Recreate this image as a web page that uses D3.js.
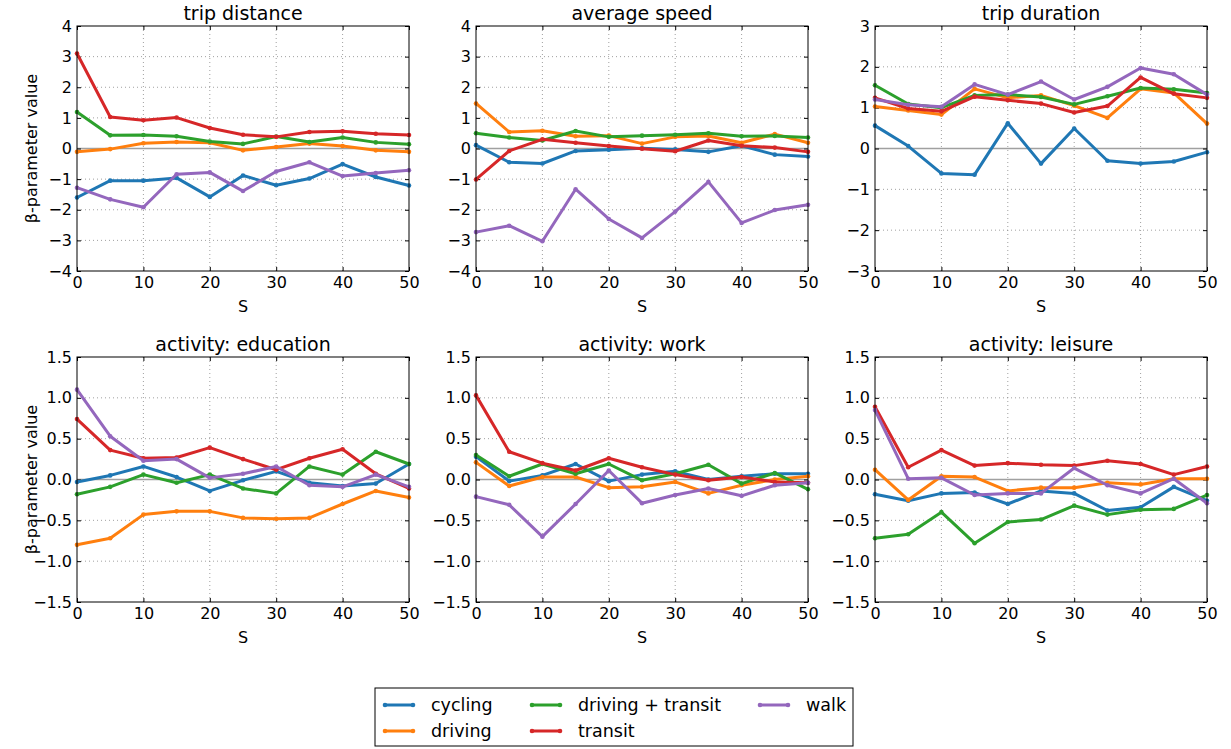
<!DOCTYPE html>
<html><head><meta charset="utf-8">
<script src="https://cdn.jsdelivr.net/npm/d3@7"></script>
<style>
body{margin:0;background:#fff;}
svg text{font-family:"DejaVu Sans",sans-serif;fill:#000;}
</style></head>
<body><svg id="c" width="1231" height="749"></svg>
<script>
const sValues = [0,5,10,15,20,25,30,35,40,45,50];
const seriesNames = ["cycling","driving","driving + transit","transit","walk"];
const seriesColors = ["#1f77b4","#ff7f0e","#2ca02c","#d62728","#9467bd"];
const panelTitles = ["trip distance","average speed","trip duration","activity: education","activity: work","activity: leisure"];
const xTicks = [0,10,20,30,40,50];
const yTicksTop = [-4,-3,-2,-1,0,1,2,3,4];
const yTicksDuration = [-3,-2,-1,0,1,2,3];
const yTicksBottom = [-1.5,-1.0,-0.5,0.0,0.5,1.0,1.5];

// rows: cycling, driving, driving + transit, transit, walk
const tripDistance = [
  [-1.60,-1.05,-1.05,-0.96,-1.58,-0.88,-1.20,-0.98,-0.51,-0.93,-1.21],
  [-0.11,-0.02,0.17,0.21,0.19,-0.06,0.05,0.16,0.08,-0.06,-0.11],
  [1.19,0.43,0.44,0.40,0.23,0.15,0.39,0.21,0.36,0.20,0.14],
  [3.10,1.03,0.92,1.01,0.67,0.45,0.38,0.54,0.56,0.48,0.44],
  [-1.28,-1.66,-1.92,-0.84,-0.78,-1.39,-0.75,-0.45,-0.90,-0.80,-0.71]
];
const averageSpeed = [
  [0.11,-0.45,-0.49,-0.08,-0.04,0.01,-0.03,-0.11,0.09,-0.20,-0.26],
  [1.47,0.54,0.58,0.40,0.42,0.16,0.38,0.41,0.19,0.47,0.19],
  [0.50,0.36,0.26,0.57,0.38,0.42,0.45,0.50,0.40,0.41,0.36],
  [-1.01,-0.08,0.30,0.19,0.08,-0.01,-0.09,0.26,0.09,0.03,-0.11],
  [-2.73,-2.52,-3.03,-1.33,-2.30,-2.92,-2.06,-1.09,-2.43,-2.01,-1.84]
];
const tripDuration = [
  [0.56,0.06,-0.61,-0.64,0.62,-0.37,0.49,-0.30,-0.37,-0.32,-0.09],
  [1.03,0.93,0.83,1.46,1.24,1.30,1.05,0.75,1.46,1.36,0.61],
  [1.55,1.09,1.00,1.30,1.32,1.26,1.08,1.28,1.48,1.45,1.36],
  [1.24,0.98,0.91,1.27,1.18,1.10,0.88,1.04,1.74,1.34,1.24],
  [1.20,1.07,1.02,1.57,1.32,1.64,1.20,1.51,1.97,1.82,1.32]
];
const activityEducation = [
  [-0.03,0.05,0.16,0.03,-0.14,-0.01,0.10,-0.04,-0.08,-0.05,0.19],
  [-0.80,-0.72,-0.43,-0.39,-0.39,-0.47,-0.48,-0.47,-0.30,-0.14,-0.22],
  [-0.18,-0.09,0.06,-0.04,0.06,-0.11,-0.17,0.16,0.06,0.34,0.19],
  [0.74,0.36,0.26,0.27,0.39,0.25,0.12,0.26,0.37,0.07,-0.11],
  [1.10,0.53,0.23,0.25,0.02,0.07,0.16,-0.07,-0.09,0.06,-0.09]
];
const activityWork = [
  [0.28,-0.02,0.05,0.19,-0.02,0.06,0.10,0.00,0.04,0.07,0.07],
  [0.21,-0.08,0.03,0.03,-0.10,-0.09,-0.03,-0.17,-0.07,0.00,0.04],
  [0.30,0.04,0.19,0.07,0.19,-0.01,0.07,0.18,-0.05,0.08,-0.12],
  [1.03,0.34,0.20,0.11,0.26,0.15,0.06,-0.01,0.03,-0.03,-0.04],
  [-0.21,-0.31,-0.70,-0.30,0.11,-0.29,-0.19,-0.11,-0.20,-0.07,-0.04]
];
const activityLeisure = [
  [-0.18,-0.26,-0.17,-0.16,-0.30,-0.14,-0.17,-0.38,-0.34,-0.09,-0.26],
  [0.12,-0.25,0.04,0.03,-0.14,-0.10,-0.10,-0.04,-0.06,0.01,0.01],
  [-0.72,-0.67,-0.40,-0.78,-0.52,-0.49,-0.32,-0.43,-0.37,-0.36,-0.19],
  [0.89,0.15,0.36,0.17,0.20,0.18,0.17,0.23,0.19,0.06,0.16],
  [0.85,0.01,0.02,-0.19,-0.17,-0.17,0.14,-0.07,-0.17,0.01,-0.29]
];

const panelData = [tripDistance, averageSpeed, tripDuration, activityEducation, activityWork, activityLeisure];
const panelYTicks = [yTicksTop, yTicksTop, yTicksDuration, yTicksBottom, yTicksBottom, yTicksBottom];

const svg = d3.select("#c");
const colLeft = [77, 476, 875];
const rowTop = [26, 357];
const pw = 332, ph = 245;

panelData.forEach((data, i) => {
  const col = i % 3, row = Math.floor(i / 3);
  const ticks = panelYTicks[i];
  const x = d3.scaleLinear().domain([0, 50]).range([0, pw]);
  const y = d3.scaleLinear().domain([ticks[0], ticks[ticks.length - 1]]).range([ph, 0]);
  const fmt = row === 0 ? d3.format("d") : d3.format(".1f");
  const g = svg.append("g").attr("transform", `translate(${colLeft[col]},${rowTop[row]})`);

  // grid
  g.append("g").selectAll("line").data(xTicks.slice(1, -1)).join("line")
    .attr("x1", d => x(d)).attr("x2", d => x(d)).attr("y1", 0).attr("y2", ph)
    .attr("stroke", "#888").attr("stroke-width", 0.8).attr("stroke-dasharray", "1,3");
  g.append("g").selectAll("line").data(ticks.slice(1, -1)).join("line")
    .attr("y1", d => y(d)).attr("y2", d => y(d)).attr("x1", 0).attr("x2", pw)
    .attr("stroke", "#888").attr("stroke-width", 0.8).attr("stroke-dasharray", "1,3");

  // zero line
  g.append("line").attr("x1", 0).attr("x2", pw).attr("y1", y(0)).attr("y2", y(0))
    .attr("stroke", "#a0a0a0").attr("stroke-width", 1.5);

  // axes
  const tl = 4;
  const xb = g.append("g").attr("transform", `translate(0,${ph})`)
    .call(d3.axisBottom(x).tickValues(xTicks).tickSize(-tl).tickPadding(6).tickFormat(d3.format("d")));
  const xt = g.append("g").call(d3.axisTop(x).tickValues(xTicks).tickSize(-tl).tickFormat(""));
  const yl = g.append("g").call(d3.axisLeft(y).tickValues(ticks).tickSize(-tl).tickPadding(5).tickFormat(fmt));
  const yr = g.append("g").attr("transform", `translate(${pw},0)`)
    .call(d3.axisRight(y).tickValues(ticks).tickSize(-tl).tickFormat(""));
  [xb, xt, yl, yr].forEach(a => {
    a.select(".domain").remove();
    a.selectAll("line").attr("stroke", "#000").attr("stroke-width", 1);
    a.selectAll("text").attr("font-size", 16).attr("font-family", "DejaVu Sans").attr("fill", "#000");
  });

  // lines
  const line = d3.line().x((d, j) => x(sValues[j])).y(d => y(d));
  data.forEach((vals, k) => {
    g.append("path").datum(vals).attr("d", line).attr("fill", "none")
      .attr("stroke", seriesColors[k]).attr("stroke-width", 3).attr("stroke-linejoin", "round");
    g.append("g").selectAll("circle").data(vals).join("circle")
      .attr("cx", (d, j) => x(sValues[j])).attr("cy", d => y(d)).attr("r", 2.3)
      .attr("fill", seriesColors[k]);
  });

  // frame
  g.append("rect").attr("width", pw).attr("height", ph).attr("fill", "none")
    .attr("stroke", "#000").attr("stroke-width", 1);

  // title
  g.append("text").attr("x", pw / 2).attr("y", -6).attr("text-anchor", "middle")
    .attr("font-size", 19).text(panelTitles[i]);
  // x label
  g.append("text").attr("x", pw / 2).attr("y", ph + 41).attr("text-anchor", "middle")
    .attr("font-size", 16).text("S");
  if (col === 0) {
    g.append("text").attr("transform", `translate(-40,${ph / 2}) rotate(-90)`)
      .attr("text-anchor", "middle").attr("font-size", 16).text("β-parameter value");
  }
});

// legend
const lg = svg.append("g").attr("transform", "translate(375,688)");
lg.append("rect").attr("width", 478).attr("height", 58).attr("fill", "#fff")
  .attr("stroke", "#000").attr("stroke-width", 1);
const legCols = [10, 157, 385];
seriesNames.forEach((name, k) => {
  const c = Math.floor(k / 2), r = k % 2;
  const lx = legCols[c], ly = 17 + r * 26;
  lg.append("line").attr("x1", lx).attr("x2", lx + 28).attr("y1", ly).attr("y2", ly)
    .attr("stroke", seriesColors[k]).attr("stroke-width", 3);
  lg.append("circle").attr("cx", lx).attr("cy", ly).attr("r", 2.3).attr("fill", seriesColors[k]);
  lg.append("circle").attr("cx", lx + 28).attr("cy", ly).attr("r", 2.3).attr("fill", seriesColors[k]);
  lg.append("text").attr("x", lx + 46).attr("y", ly + 6).attr("font-size", 17.5).text(name);
});
</script></body></html>
